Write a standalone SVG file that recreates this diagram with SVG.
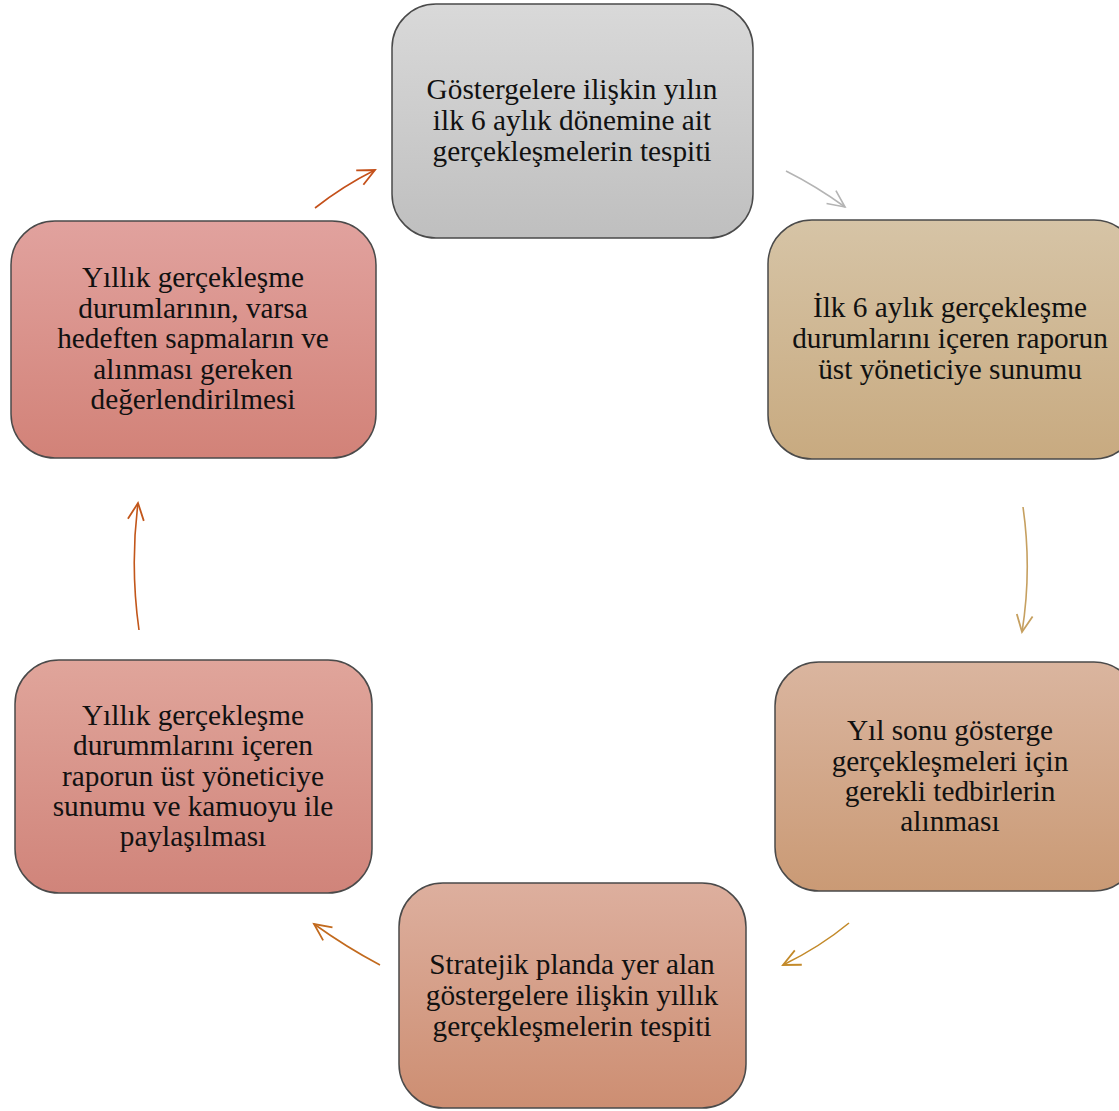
<svg xmlns="http://www.w3.org/2000/svg" width="1119" height="1111" viewBox="0 0 1119 1111">
<style>
.box{stroke:#4a4a4a;stroke-width:1.5}
.t{font-family:"Liberation Serif","Times New Roman",serif;font-size:29.3px;fill:#111;text-anchor:middle}
.c{fill:none;stroke-width:1.6}
</style>
<defs>
<linearGradient id="g1" x1="0" y1="0" x2="0" y2="1"><stop offset="0" stop-color="#d9d9d9"/><stop offset="1" stop-color="#bfbfbf"/></linearGradient>
<linearGradient id="g2" x1="0" y1="0" x2="0" y2="1"><stop offset="0" stop-color="#d6c4a6"/><stop offset="1" stop-color="#c8aa80"/></linearGradient>
<linearGradient id="g3" x1="0" y1="0" x2="0" y2="1"><stop offset="0" stop-color="#dab59f"/><stop offset="1" stop-color="#ca9a75"/></linearGradient>
<linearGradient id="g4" x1="0" y1="0" x2="0" y2="1"><stop offset="0" stop-color="#ddaf9e"/><stop offset="1" stop-color="#cd8e72"/></linearGradient>
<linearGradient id="g5" x1="0" y1="0" x2="0" y2="1"><stop offset="0" stop-color="#e0a59b"/><stop offset="1" stop-color="#d0847a"/></linearGradient>
<linearGradient id="g6" x1="0" y1="0" x2="0" y2="1"><stop offset="0" stop-color="#e1a29e"/><stop offset="1" stop-color="#d28278"/></linearGradient>
<marker id="m1" markerUnits="userSpaceOnUse" markerWidth="30" markerHeight="30" refX="0" refY="0" viewBox="-20 -15 30 30" orient="auto" overflow="visible"><path d="M-17,-8 L0,0 L-17,8" fill="none" stroke="#c4501a" stroke-width="1.8"/></marker>
<marker id="m2" markerUnits="userSpaceOnUse" markerWidth="30" markerHeight="30" refX="0" refY="0" viewBox="-20 -15 30 30" orient="auto" overflow="visible"><path d="M-17,-8 L0,0 L-17,8" fill="none" stroke="#b4b4b4" stroke-width="1.6"/></marker>
<marker id="m3" markerUnits="userSpaceOnUse" markerWidth="30" markerHeight="30" refX="0" refY="0" viewBox="-20 -15 30 30" orient="auto" overflow="visible"><path d="M-17,-8 L0,0 L-17,8" fill="none" stroke="#c6a060" stroke-width="1.8"/></marker>
<marker id="m4" markerUnits="userSpaceOnUse" markerWidth="30" markerHeight="30" refX="0" refY="0" viewBox="-20 -15 30 30" orient="auto" overflow="visible"><path d="M-17,-8 L0,0 L-17,8" fill="none" stroke="#c38a2a" stroke-width="1.8"/></marker>
<marker id="m5" markerUnits="userSpaceOnUse" markerWidth="30" markerHeight="30" refX="0" refY="0" viewBox="-20 -15 30 30" orient="auto" overflow="visible"><path d="M-17,-8 L0,0 L-17,8" fill="none" stroke="#c26a1e" stroke-width="1.8"/></marker>
<marker id="m6" markerUnits="userSpaceOnUse" markerWidth="30" markerHeight="30" refX="0" refY="0" viewBox="-20 -15 30 30" orient="auto" overflow="visible"><path d="M-17,-8 L0,0 L-17,8" fill="none" stroke="#c2561a" stroke-width="1.8"/></marker>
</defs>
<g id="connectors">
<path class="c" stroke="#c4501a" d="M315,208 Q343,186 375,170" marker-end="url(#m1)"/>
<path class="c" stroke="#b4b4b4" d="M786,171 Q816,186 845,207" marker-end="url(#m2)"/>
<path class="c" stroke="#c6a060" d="M1023,507 Q1032,570 1022,632" marker-end="url(#m3)"/>
<path class="c" stroke="#c38a2a" d="M849,923 Q820,947 783,965" marker-end="url(#m4)"/>
<path class="c" stroke="#c26a1e" d="M380,965 Q346,947 314,924" marker-end="url(#m5)"/>
<path class="c" stroke="#c2561a" d="M139,630 Q130,566 138,503" marker-end="url(#m6)"/>
</g>
<g id="node1">
<rect class="box" x="392" y="4" width="361" height="234" rx="44" fill="url(#g1)"/>
<text class="t" x="572" y="99">Göstergelere ilişkin yılın</text>
<text class="t" x="572" y="130">ilk 6 aylık dönemine ait</text>
<text class="t" x="572" y="161">gerçekleşmelerin tespiti</text>
</g>
<g id="node2">
<rect class="box" x="768" y="220" width="370" height="239" rx="44" fill="url(#g2)"/>
<text class="t" x="950" y="317">İlk 6 aylık gerçekleşme</text>
<text class="t" x="950" y="348">durumlarını içeren raporun</text>
<text class="t" x="950" y="379">üst yöneticiye sunumu</text>
</g>
<g id="node3">
<rect class="box" x="775" y="662" width="363" height="229" rx="44" fill="url(#g3)"/>
<text class="t" x="950" y="740">Yıl sonu gösterge</text>
<text class="t" x="950" y="771">gerçekleşmeleri için</text>
<text class="t" x="950" y="801">gerekli tedbirlerin</text>
<text class="t" x="950" y="831">alınması</text>
</g>
<g id="node4">
<rect class="box" x="399" y="883" width="347" height="225" rx="44" fill="url(#g4)"/>
<text class="t" x="572" y="974">Stratejik planda yer alan</text>
<text class="t" x="572" y="1005">göstergelere ilişkin yıllık</text>
<text class="t" x="572" y="1036">gerçekleşmelerin tespiti</text>
</g>
<g id="node5">
<rect class="box" x="15" y="660" width="357" height="233" rx="44" fill="url(#g5)"/>
<text class="t" x="193" y="725">Yıllık gerçekleşme</text>
<text class="t" x="193" y="755">durummlarını içeren</text>
<text class="t" x="193" y="786">raporun üst yöneticiye</text>
<text class="t" x="193" y="816">sunumu ve kamuoyu ile</text>
<text class="t" x="193" y="846">paylaşılması</text>
</g>
<g id="node6">
<rect class="box" x="11" y="221" width="365" height="237" rx="44" fill="url(#g6)"/>
<text class="t" x="193" y="287">Yıllık gerçekleşme</text>
<text class="t" x="193" y="318">durumlarının, varsa</text>
<text class="t" x="193" y="348">hedeften sapmaların ve</text>
<text class="t" x="193" y="379">alınması gereken</text>
<text class="t" x="193" y="409">değerlendirilmesi</text>
</g>
</svg>
